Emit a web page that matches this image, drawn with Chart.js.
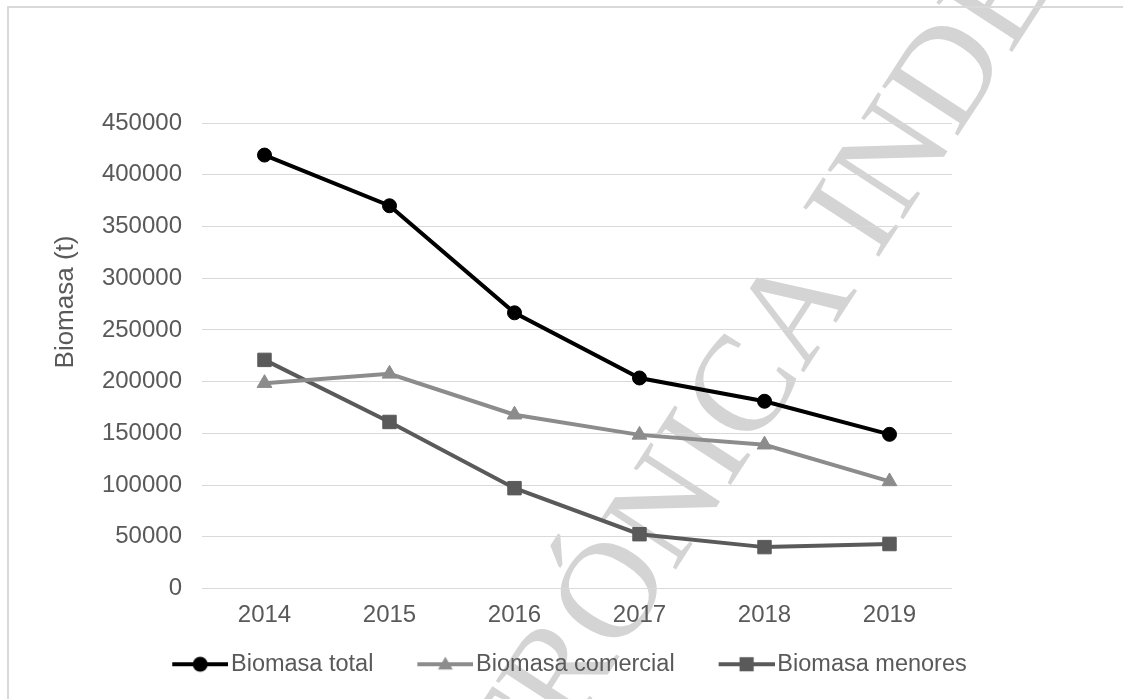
<!DOCTYPE html>
<html>
<head>
<meta charset="utf-8">
<script src="https://cdn.jsdelivr.net/npm/chart.js@4.4.0/dist/chart.umd.min.js"></script>
<style>
  html, body { margin: 0; padding: 0; background: #fff; }
  #wrap { position: relative; width: 1123px; height: 699px; }
</style>
</head>
<body>
<div id="wrap"><canvas id="biomasaChart"></canvas></div>
<script>
// values (t)
const years = ['2014', '2015', '2016', '2017', '2018', '2019'];
const biomasaTotal = [419000, 370000, 266500, 203500, 181000, 149000];
const biomasaComercial = [198500, 207500, 168000, 148500, 139000, 103500];
const biomasaMenores = [221000, 161000, 97000, 52500, 40000, 43000];
const yMax = 450000;
const yStep = 50000;

const FONT = "'Liberation Sans', Arial, sans-serif";
const GREY_TEXT = '#595959';

// line + marker picture for each legend entry; the left part is left empty
// so that the drawn line sits right before the label text
function legendSwatch(color, style, radius) {
  const c = document.createElement('canvas');
  c.width = 87;
  c.height = 22;
  const g = c.getContext('2d');
  const mid = 59;
  g.strokeStyle = color;
  g.fillStyle = color;
  g.lineWidth = 4;
  g.beginPath();
  g.moveTo(31, 11);
  g.lineTo(87, 11);
  g.stroke();
  g.beginPath();
  if (style === 'circle') {
    g.arc(mid, 11, radius, 0, Math.PI * 2);
  } else if (style === 'rect') {
    const s = radius * Math.SQRT1_2;
    g.rect(mid - s, 11 - s, 2 * s, 2 * s);
  } else {
    g.moveTo(mid, 12 - radius);
    g.lineTo(mid + radius * 0.866, 12 + radius / 2);
    g.lineTo(mid - radius * 0.866, 12 + radius / 2);
    g.closePath();
  }
  g.fill();
  return c;
}

const swatches = [
  legendSwatch('#000000', 'circle', 7.5),
  legendSwatch('#8c8c8c', 'triangle', 8.5),
  legendSwatch('#5a5a5a', 'rect', 10)
];

const backdrop = {
  id: 'backdrop',
  beforeDraw(chart) {
    const ctx = chart.ctx;
    ctx.save();
    ctx.fillStyle = '#ffffff';
    ctx.fillRect(0, 0, chart.width, chart.height);

    // watermark of the source document
    ctx.save();
    ctx.font = "138px 'Liberation Serif', 'DejaVu Serif', serif";
    ctx.fillStyle = '#d4d4d4';
    ctx.textBaseline = 'middle';
    const pre = ctx.measureText('ELECTRÓNIC').width + ctx.measureText('A').width / 2;
    ctx.translate(800, 312);
    ctx.rotate(-57 * Math.PI / 180);
    ctx.fillText('ELECTRÓNICA INDEXADA', -pre, 0);
    ctx.restore();

    // frame
    ctx.strokeStyle = '#d9d9d9';
    ctx.lineWidth = 2;
    ctx.beginPath();
    ctx.moveTo(8, chart.height);
    ctx.lineTo(8, 7);
    ctx.lineTo(chart.width, 7);
    ctx.stroke();

    // y axis title
    ctx.translate(66, 302);
    ctx.rotate(-Math.PI / 2);
    ctx.font = '26px ' + FONT;
    ctx.fillStyle = GREY_TEXT;
    ctx.textAlign = 'center';
    ctx.textBaseline = 'middle';
    ctx.fillText('Biomasa (t)', 0, 0);
    ctx.restore();
  }
};

const ctx = document.getElementById('biomasaChart').getContext('2d');

new Chart(ctx, {
  type: 'line',
  data: {
    labels: years,
    datasets: [
      {
        label: 'Biomasa total',
        data: biomasaTotal,
        borderColor: '#000000',
        backgroundColor: '#000000',
        borderWidth: 4,
        pointStyle: 'circle',
        pointRadius: 7,
        pointBorderWidth: 1
      },
      {
        label: 'Biomasa comercial',
        data: biomasaComercial,
        borderColor: '#8c8c8c',
        backgroundColor: '#8c8c8c',
        borderWidth: 4,
        pointStyle: 'triangle',
        pointRadius: 8.5,
        pointBorderWidth: 1
      },
      {
        label: 'Biomasa menores',
        data: biomasaMenores,
        borderColor: '#5a5a5a',
        backgroundColor: '#5a5a5a',
        borderWidth: 4,
        pointStyle: 'rect',
        pointRadius: 9.5,
        pointBorderWidth: 1
      }
    ]
  },
  options: {
    responsive: true,
    maintainAspectRatio: false,
    animation: false,
    layout: {
      padding: { left: 0, right: 6, top: 123, bottom: 13 }
    },
    plugins: {
      legend: {
        position: 'bottom',
        labels: {
          usePointStyle: true,
          pointStyleWidth: 69,
          padding: 22,
          color: GREY_TEXT,
          font: { family: FONT, size: 23.5 },
          generateLabels: chart => chart.data.datasets.map((ds, i) => ({
            text: ds.label,
            pointStyle: swatches[i],
            fillStyle: ds.borderColor,
            strokeStyle: ds.borderColor,
            lineWidth: 0,
            fontColor: GREY_TEXT,
            hidden: false,
            datasetIndex: i
          }))
        }
      },
      tooltip: { enabled: false }
    },
    scales: {
      x: {
        offset: true,
        grid: { display: false, drawTicks: false },
        border: { display: false },
        ticks: { color: GREY_TEXT, font: { family: FONT, size: 24 }, padding: 12 },
        afterFit: scale => { scale.height = 42; }
      },
      y: {
        min: 0,
        max: yMax,
        grid: { color: '#d9d9d9', lineWidth: 1, drawTicks: false },
        border: { display: false },
        ticks: {
          stepSize: yStep,
          color: GREY_TEXT,
          font: { family: FONT, size: 24 },
          padding: 20,
          callback: value => String(value)
        },
        afterFit: scale => { scale.width = 202; }
      },
      rightGap: {
        position: 'right',
        display: true,
        grid: { display: false, drawTicks: false },
        border: { display: false },
        ticks: { display: false },
        afterFit: scale => { scale.width = 165; }
      }
    }
  },
  plugins: [backdrop]
});
</script>
</body>
</html>
